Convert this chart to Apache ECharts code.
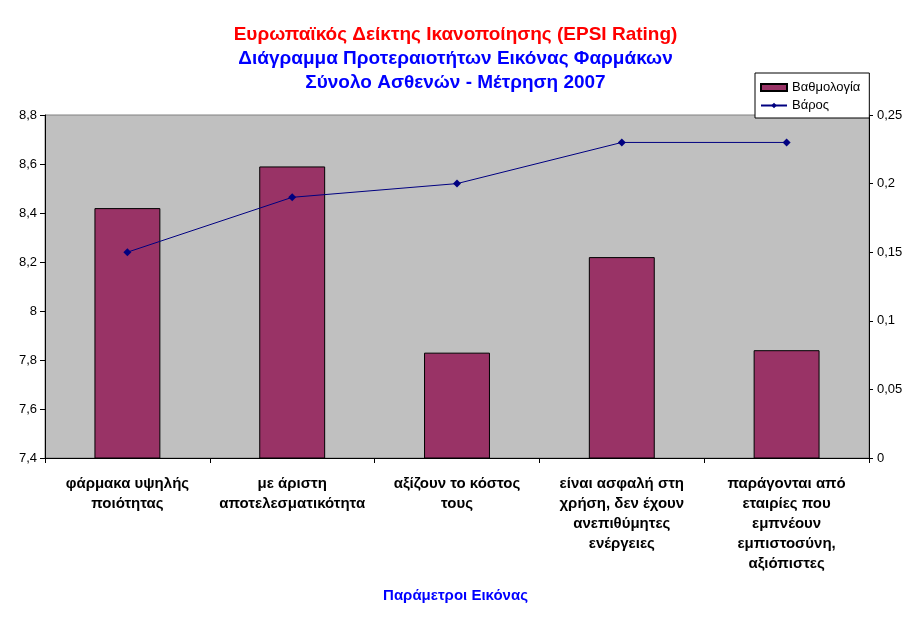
<!DOCTYPE html>
<html>
<head>
<meta charset="utf-8">
<script src="https://cdn.jsdelivr.net/npm/echarts@6/dist/echarts.min.js"></script>
<style>html,body{margin:0;padding:0;background:#fff}#c{width:911px;height:623px}</style>
</head>
<body>
<div id="c"></div>
<script>
var categories = [
  "φάρμακα υψηλής\nποιότητας",
  "με άριστη\nαποτελεσματικότητα",
  "αξίζουν το κόστος\nτους",
  "είναι ασφαλή στη\nχρήση, δεν έχουν\nανεπιθύμητες\nενέργειες",
  "παράγονται από\nεταιρίες που\nεμπνέουν\nεμπιστοσύνη,\nαξιόπιστες"
];
var scores = [8.42, 8.59, 7.83, 8.22, 7.84];
var weights = [0.15, 0.19, 0.20, 0.23, 0.23];
var titleLines = [
  "Ευρωπαϊκός Δείκτης Ικανοποίησης (EPSI Rating)",
  "Διάγραμμα Προτεραιοτήτων Εικόνας Φαρμάκων",
  "Σύνολο Ασθενών - Μέτρηση 2007"
];
var xAxisName = "Παράμετροι Εικόνας";
var seriesNames = ["Βαθμολογία", "Βάρος"];

var FONT = "Arial, 'Liberation Sans', sans-serif";
var chart = echarts.init(document.getElementById('c'));
chart.setOption({
  animation: false,
  backgroundColor: '#fff',
  textStyle: {fontFamily: FONT},
  title: [
    {text: titleLines[0], left: 'center', top: 20, textStyle: {color: '#FF0000', fontSize: 19, fontWeight: 'bold', fontFamily: FONT}},
    {text: titleLines[1], left: 'center', top: 44, textStyle: {color: '#0000FF', fontSize: 19, fontWeight: 'bold', fontFamily: FONT}},
    {text: titleLines[2], left: 'center', top: 68, textStyle: {color: '#0000FF', fontSize: 19, fontWeight: 'bold', fontFamily: FONT}},
    {text: xAxisName, left: 'center', top: 583, textStyle: {color: '#0000FF', fontSize: 15, fontWeight: 'bold', fontFamily: FONT}}
  ],
  legend: {
    orient: 'vertical',
    left: 755, top: 73,
    padding: [8, 9, 6, 5],
    itemGap: 5,
    itemWidth: 26, itemHeight: 7,
    borderColor: '#000', borderWidth: 1,
    backgroundColor: '#fff',
    textStyle: {fontSize: 13, color: '#000', fontFamily: FONT},
    data: [{name: seriesNames[0], icon: 'rect'}, {name: seriesNames[1]}]
  },
  grid: {
    left: 45, right: 42, top: 115, bottom: 165,
    show: true, backgroundColor: '#C0C0C0', borderColor: '#808080', borderWidth: 1
  },
  xAxis: {
    type: 'category',
    data: categories,
    boundaryGap: true,
    axisLine: {lineStyle: {color: '#000', width: 1}},
    axisTick: {show: true, length: 5, lineStyle: {color: '#000'}, alignWithLabel: false},
    axisLabel: {interval: 0, color: '#000', fontSize: 15, fontWeight: 'bold', lineHeight: 20, margin: 16, fontFamily: FONT}
  },
  yAxis: [
    {
      type: 'value', min: 7.4, max: 8.8, interval: 0.2, position: 'left',
      axisLine: {show: true, lineStyle: {color: '#000'}},
      axisTick: {show: true, length: 5, lineStyle: {color: '#000'}},
      splitLine: {show: false},
      axisLabel: {color: '#000', fontSize: 13, margin: 8, fontFamily: FONT,
        formatter: function (v) { return String(Math.round(v * 10) / 10).replace('.', ','); }}
    },
    {
      type: 'value', min: 0, max: 0.25, interval: 0.05, position: 'right',
      axisLine: {show: true, lineStyle: {color: '#000'}},
      axisTick: {show: true, length: 4, lineStyle: {color: '#000'}},
      splitLine: {show: false},
      axisLabel: {color: '#000', fontSize: 13, margin: 8, fontFamily: FONT,
        formatter: function (v) { return String(Math.round(v * 100) / 100).replace('.', ','); }}
    }
  ],
  series: [
    {
      name: seriesNames[0], type: 'bar', yAxisIndex: 0, data: scores,
      barWidth: '40%',
      itemStyle: {color: '#993366', borderColor: '#000', borderWidth: 1}
    },
    {
      name: seriesNames[1], type: 'line', yAxisIndex: 1, data: weights,
      symbol: 'diamond', symbolSize: 8,
      lineStyle: {color: '#000080', width: 1},
      itemStyle: {color: '#000080'}
    }
  ]
});
</script>
</body>
</html>
